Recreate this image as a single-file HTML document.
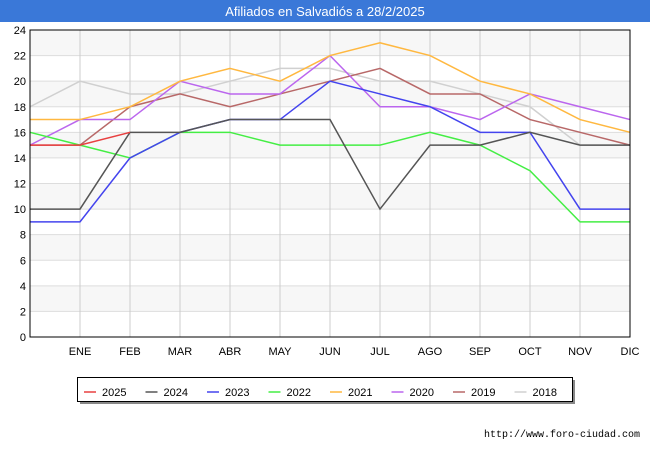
<!DOCTYPE html>
<html><head><meta charset="utf-8"><style>
body{margin:0;background:#fff;font-family:"Liberation Sans",sans-serif;}
#wrap{position:relative;width:650px;height:450px;}
</style></head><body>
<div id="wrap">
<svg id="svg" width="650" height="450" xmlns="http://www.w3.org/2000/svg">
<rect x="0" y="0" width="650" height="22" fill="#3a78d8"/>
<text x="325" y="16" text-anchor="middle" font-size="13" fill="#fff" font-family="Liberation Sans, sans-serif">Afiliados en Salvadiós a 28/2/2025</text>
<g id="grid"></g>
<g id="series"></g>
<rect x="30" y="30" width="600" height="307" fill="none" stroke="#000" stroke-width="1"/>
<g id="legend"></g>
<text x="640" y="437" text-anchor="end" font-size="10" fill="#000" font-family="Liberation Mono, monospace">http://www.foro-ciudad.com</text>
</svg>
</div>
<script>
const categories=["","ENE","FEB","MAR","ABR","MAY","JUN","JUL","AGO","SEP","OCT","NOV","DIC"];
const yTicks=[0,2,4,6,8,10,12,14,16,18,20,22,24];
const seriesNames=["2025","2024","2023","2022","2021","2020","2019","2018"];
const seriesColors=["#e84040","#555555","#4444ee","#44ee44","#ffb840","#bb66ee","#b86868","#d0d0d0"];
const s2025=[15,15,16];
const s2024=[10,10,16,16,17,17,17,10,15,15,16,15,15];
const s2023=[9,9,14,16,17,17,20,19,18,16,16,10,10];
const s2022=[16,15,14,16,16,15,15,15,16,15,13,9,9];
const s2021=[17,17,18,20,21,20,22,23,22,20,19,17,16];
const s2020=[15,17,17,20,19,19,22,18,18,17,19,18,17];
const s2019=[15,15,18,19,18,19,20,21,19,19,17,16,15];
const s2018=[18,20,19,19,20,21,21,20,20,19,18,15,15];
const seriesData=[s2025,s2024,s2023,s2022,s2021,s2020,s2019,s2018];
const NS="http://www.w3.org/2000/svg";
const X0=30,X1=630,Y0=337,Y1=30,YMAX=24;
const xs=i=>X0+i*(X1-X0)/(categories.length-1);
const ys=v=>Y0-v*(Y0-Y1)/YMAX;
function mk(t,a,p){const e=document.createElementNS(NS,t);for(const k in a)e.setAttribute(k,a[k]);p.appendChild(e);return e;}
const grid=document.getElementById('grid');
for(let i=0;i<yTicks.length-1;i++){
  if(i%2===1){const r=mk('rect',{x:X0,y:ys(yTicks[i+1]),width:X1-X0,height:ys(yTicks[i])-ys(yTicks[i+1]),fill:'#f7f7f7'},grid);
  
  }
}
yTicks.forEach(v=>{
  const l=mk('line',{x1:X0,x2:X1,y1:ys(v),y2:ys(v),stroke:'#dddddd'},grid);
  
  
  const t=mk('text',{x:X0-4,y:ys(v)+4,'text-anchor':'end','font-size':11,fill:'#000'},grid);
  
  
  t.textContent=v;
});
categories.forEach((c,i)=>{
  const l=mk('line',{x1:xs(i),x2:xs(i),y1:Y1,y2:Y0,stroke:'#cccccc'},grid);
  
  
  if(c){const t=mk('text',{x:xs(i),y:355,'text-anchor':'middle','font-size':11,fill:'#000'},grid);
  
  
  t.textContent=c;}
});
const sg=document.getElementById('series');
for(let s=seriesData.length-1;s>=0;s--){
  const pts=seriesData[s].map((v,i)=>xs(i)+','+ys(v)).join(' ');
  const p=mk('polyline',{points:pts,fill:'none',stroke:seriesColors[s],'stroke-width':1.5},sg);
  
  
}
const lg=document.getElementById('legend');
const sh=mk('rect',{x:80,y:380,width:495,height:24,fill:'#888'},lg);


const box=mk('rect',{x:77.5,y:377.5,width:495,height:24,fill:'#fff',stroke:'#000'},lg);


seriesNames.forEach((n,i)=>{
  const x=84+i*61.5;
  const l=mk('line',{x1:x,x2:x+12,y1:392,y2:392,stroke:seriesColors[i],'stroke-width':1.5},lg);
  
  
  const t=mk('text',{x:x+18,y:396,'font-size':11,fill:'#000'},lg);
  
  
  t.textContent=n;
});
</script>
</body></html>
